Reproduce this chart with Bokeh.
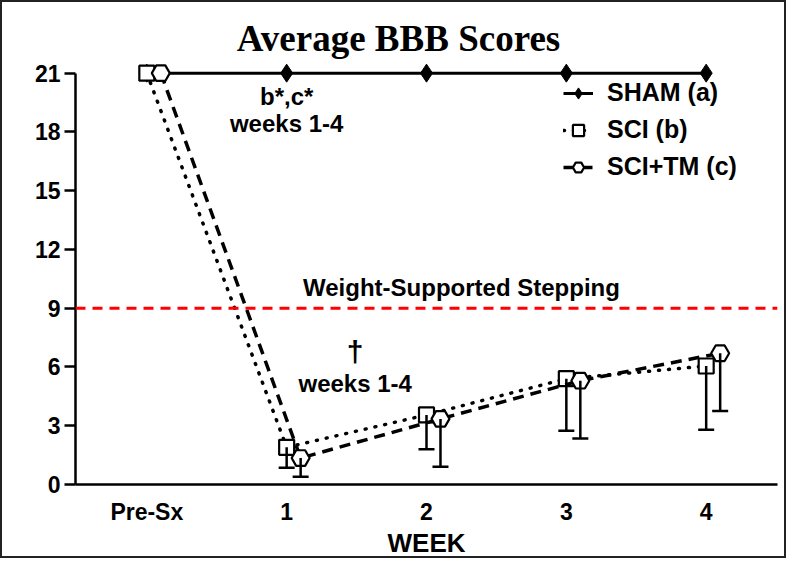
from bokeh.plotting import figure
from bokeh.models import ColumnDataSource, Whisker, TeeHead, Span, FixedTicker, Range1d, Legend, LegendItem
from bokeh.core.properties import value
from bokeh.embed import file_html
from bokeh.resources import INLINE

# ---- data ----
weeks = ["Pre-Sx", "1", "2", "3", "4"]
week_pos = [0, 1, 2, 3, 4]
sham = [21, 21, 21, 21, 21]
sci = [21, 1.9, 3.55, 5.4, 6.05]
sci_err = [0, 1.05, 1.75, 2.65, 3.25]
sci_tm = [21, 1.35, 3.35, 5.3, 6.7]
sci_tm_err = [0, 0.95, 2.45, 2.95, 2.95]
threshold = 9
tm_offset = 0.1
y_ticks = [0, 3, 6, 9, 12, 15, 18, 21]

FONT = "Liberation Sans"

p = figure(width=786, height=558, output_backend="svg", toolbar_location=None,
           x_range=Range1d(-0.51, 4.51), y_range=Range1d(0, 24.3),
           min_border_left=73, min_border_right=11, min_border_bottom=68, min_border_top=6)
p.styles = {"border": "2px solid #222"}
p.outline_line_color = None
p.grid.visible = False
p.background_fill_color = "white"

# axes
p.yaxis.ticker = FixedTicker(ticks=y_ticks)
p.yaxis.bounds = (0, 21)
p.yaxis.minor_tick_line_color = None
p.yaxis.major_tick_out = 11
p.yaxis.major_tick_in = 0
p.yaxis.axis_line_width = 2.5
p.yaxis.major_tick_line_width = 2.5
p.yaxis.major_label_text_font = FONT
p.yaxis.major_label_text_font_style = "bold"
p.yaxis.major_label_text_font_size = "23px"
p.yaxis.major_label_text_color = "black"
p.yaxis.major_label_standoff = 4

p.xaxis.ticker = FixedTicker(ticks=week_pos)
p.xaxis.major_label_overrides = {pos: lab for pos, lab in zip(week_pos, weeks)}
p.xaxis.major_tick_line_color = None
p.xaxis.minor_tick_line_color = None
p.xaxis.axis_line_width = 2.5
p.xaxis.major_label_text_font = FONT
p.xaxis.major_label_text_font_style = "bold"
p.xaxis.major_label_text_font_size = "23px"
p.xaxis.major_label_text_color = "black"
p.xaxis.major_label_standoff = 8
p.xaxis.axis_label = "WEEK"
p.xaxis.axis_label_text_font = FONT
p.xaxis.axis_label_text_font_style = "bold"
p.xaxis.axis_label_text_font_size = "26px"
p.xaxis.axis_label_text_color = "black"
p.xaxis.axis_label_standoff = 0

# threshold line
p.add_layout(Span(location=threshold, dimension="width", line_color="red",
                  line_width=3, line_dash="10 7"))

# error bars (one-sided, downward)
x_tm = [x + tm_offset for x in week_pos]
src_sci = ColumnDataSource(dict(x=week_pos[1:], upper=sci[1:],
                                lower=[m - e for m, e in zip(sci[1:], sci_err[1:])]))
src_tm = ColumnDataSource(dict(x=x_tm[1:], upper=sci_tm[1:],
                               lower=[m - e for m, e in zip(sci_tm[1:], sci_tm_err[1:])]))

for src in (src_sci, src_tm):
    w = Whisker(source=src, base="x", upper="upper", lower="lower",
                line_width=2.5, line_color="black",
                upper_head=None,
                lower_head=TeeHead(size=16, line_width=2.5, line_color="black"),
                level="glyph")
    p.add_layout(w)

# series
l1 = p.line(week_pos, sham, line_color="black", line_width=3)
m1 = p.scatter(week_pos, sham, marker="diamond", size=18, fill_color="black", line_color="black")

l2 = p.line(week_pos, sci, line_color="black", line_width=3.5, line_dash="1 9", line_cap="round")
m2 = p.scatter(week_pos, sci, marker="square", size=15, fill_color="white",
               line_color="black", line_width=2.2)

l3 = p.line(x_tm, sci_tm, line_color="black", line_width=3.5, line_dash="11 7")
m3 = p.scatter(x_tm, sci_tm, marker="hex", size=18, fill_color="white",
               line_color="black", line_width=2.2)

legend = Legend(items=[LegendItem(label="SHAM (a)", renderers=[l1, m1]),
                       LegendItem(label="SCI (b)", renderers=[l2, m2]),
                       LegendItem(label="SCI+TM (c)", renderers=[l3, m3])],
                location=(488, 303), padding=0, margin=0, spacing=8,
                glyph_width=30, glyph_height=28, label_height=28, label_standoff=14,
                label_text_font=FONT, label_text_font_style="bold",
                label_text_font_size="25px", label_text_color="black",
                background_fill_alpha=0, border_line_color=None)
p.add_layout(legend)

# annotation texts
ann_x = [1.0, 1.0, 1.49, 2.25]
ann_y = [19.8, 18.45, 5.16, 10.05]
ann_t = ["b*,c*", "weeks 1-4", "weeks 1-4", "Weight-Supported Stepping"]
p.text(ann_x, ann_y, text=ann_t, text_font=value(FONT), text_font_style="bold",
       text_font_size="24px", text_align="center", text_baseline="middle", text_color="black")

dagger_x = [1.49]
dagger_y = [6.8]
p.text(dagger_x, dagger_y, text=["\u2020"], text_font=value(FONT), text_font_style="bold",
       text_font_size="30px", text_align="center", text_baseline="middle", text_color="black")

title_x = [1.8]
title_y = [22.75]
p.text(title_x, title_y, text=["Average BBB Scores"], text_font=value("Liberation Serif"),
       text_font_style="bold", text_font_size="37px", text_align="center",
       text_baseline="middle", text_color="black")

open("out.html", "w").write(file_html(p, INLINE))
